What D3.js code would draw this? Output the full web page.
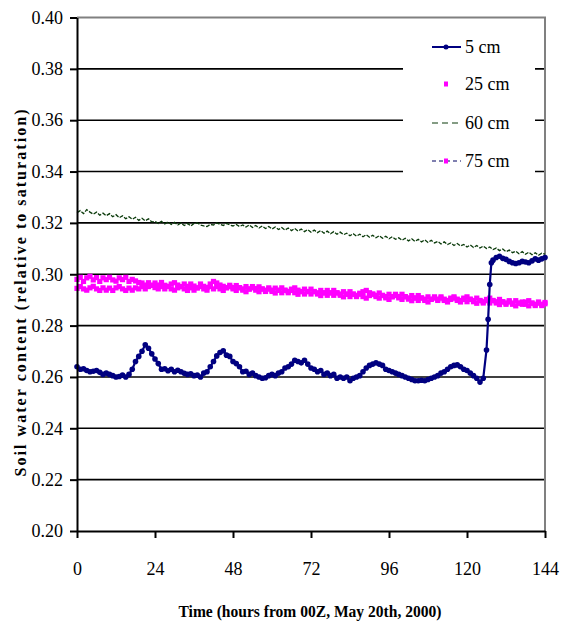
<!DOCTYPE html>
<html>
<head>
<meta charset="utf-8">
<script src="https://cdn.jsdelivr.net/npm/d3@7"></script>
<style>
  body { margin: 0; background: #fff; }
  svg, svg text { font-family: 'Liberation Serif', 'Times New Roman', Times, 'DejaVu Serif', serif !important; }
</style>
</head>
<body>
<svg id="chart" width="561" height="624"></svg>
<script>
// 横轴刻度 (小时)
const xTicks = [0, 24, 48, 72, 96, 120, 144];
// 纵轴刻度
const yTicks = [0.20, 0.22, 0.24, 0.26, 0.28, 0.30, 0.32, 0.34, 0.36, 0.38, 0.40];

// 5 cm 时间 (跳变处半小时)
const t5 = d3.range(0, 126).concat([126, 126.5, 127, 127.5], d3.range(128, 145));
// 5 cm 数值
const v5 = [
  0.2640, 0.2630, 0.2632, 0.2625, 0.2620, 0.2622, 0.2625, 0.2618, 0.2610, 0.2615,
  0.2610, 0.2605, 0.2600, 0.2602, 0.2607, 0.2600, 0.2610, 0.2630, 0.2660, 0.2680,
  0.2700, 0.2725, 0.2712, 0.2690, 0.2670, 0.2652, 0.2630, 0.2632, 0.2624, 0.2630,
  0.2620, 0.2626, 0.2620, 0.2614, 0.2610, 0.2612, 0.2605, 0.2607, 0.2600, 0.2615,
  0.2620, 0.2640, 0.2660, 0.2682, 0.2695, 0.2702, 0.2685, 0.2680, 0.2660, 0.2652,
  0.2640, 0.2620, 0.2622, 0.2610, 0.2615, 0.2605, 0.2600, 0.2595, 0.2597, 0.2605,
  0.2610, 0.2605, 0.2615, 0.2620, 0.2635, 0.2640, 0.2650, 0.2665, 0.2660, 0.2655,
  0.2665, 0.2650, 0.2635, 0.2630, 0.2620, 0.2625, 0.2610, 0.2615, 0.2605, 0.2610,
  0.2595, 0.2600, 0.2595, 0.2600, 0.2585, 0.2595, 0.2600, 0.2605, 0.2620, 0.2635,
  0.2645, 0.2650, 0.2655, 0.2650, 0.2645, 0.2630, 0.2625, 0.2620, 0.2615, 0.2610,
  0.2605, 0.2600, 0.2595, 0.2590, 0.2585, 0.2585, 0.2587, 0.2585, 0.2590, 0.2595,
  0.2600, 0.2605, 0.2615, 0.2620, 0.2630, 0.2640, 0.2645, 0.2647, 0.2640, 0.2630,
  0.2625, 0.2615, 0.2605, 0.2595, 0.2580, 0.2595,
  0.2705, 0.2825, 0.2960, 0.3045,
  0.3055, 0.3065, 0.3070, 0.3062, 0.3058, 0.3050, 0.3045, 0.3042, 0.3045, 0.3050,
  0.3048, 0.3045, 0.3052, 0.3060, 0.3055, 0.3060, 0.3065
];

// 25 cm 数值 (每小时)
const v25 = [
  0.2980, 0.2988, 0.2972, 0.2986, 0.2992, 0.2978, 0.2987, 0.2972, 0.2986, 0.2979,
  0.2988, 0.2978, 0.2973, 0.2986, 0.2979, 0.2988, 0.2972, 0.2980, 0.2974, 0.2968,
  0.2966, 0.2958, 0.2967, 0.2957, 0.2966, 0.2958, 0.2968, 0.2957, 0.2953, 0.2962,
  0.2967, 0.2958, 0.2952, 0.2962, 0.2953, 0.2962, 0.2954, 0.2947, 0.2962, 0.2953,
  0.2948, 0.2962, 0.2972, 0.2966, 0.2958, 0.2953, 0.2948, 0.2957, 0.2948, 0.2956,
  0.2948, 0.2943, 0.2952, 0.2943, 0.2952, 0.2944, 0.2951, 0.2943, 0.2938, 0.2947,
  0.2938, 0.2946, 0.2938, 0.2947, 0.2938, 0.2933, 0.2942, 0.2947, 0.2938, 0.2933,
  0.2942, 0.2933, 0.2942, 0.2933, 0.2928, 0.2937, 0.2928, 0.2937, 0.2928, 0.2937,
  0.2928, 0.2923, 0.2932, 0.2923, 0.2932, 0.2923, 0.2918, 0.2926, 0.2932, 0.2937,
  0.2928, 0.2923, 0.2918, 0.2927, 0.2918, 0.2913, 0.2922, 0.2913, 0.2922, 0.2913,
  0.2922, 0.2913, 0.2908, 0.2917, 0.2908, 0.2917, 0.2908, 0.2903, 0.2912, 0.2903,
  0.2912, 0.2903, 0.2912, 0.2903, 0.2898, 0.2907, 0.2912, 0.2903, 0.2898, 0.2907,
  0.2912, 0.2903, 0.2898, 0.2907, 0.2898, 0.2893, 0.2902, 0.2907, 0.2898, 0.2893,
  0.2902, 0.2893, 0.2888, 0.2897, 0.2888, 0.2897, 0.2888, 0.2883, 0.2892, 0.2897,
  0.2888, 0.2883, 0.2892, 0.2883, 0.2890
];

// 60 cm 数值 (每小时)
const v60 = [
  0.3240, 0.3248, 0.3236, 0.3252, 0.3242, 0.3234, 0.3242, 0.3230, 0.3238, 0.3228,
  0.3236, 0.3224, 0.3232, 0.3220, 0.3228, 0.3216, 0.3224, 0.3214, 0.3222, 0.3210,
  0.3218, 0.3208, 0.3216, 0.3204, 0.3206, 0.3198, 0.3206, 0.3196, 0.3204, 0.3194,
  0.3202, 0.3192, 0.3200, 0.3190, 0.3198, 0.3188, 0.3198, 0.3200, 0.3192, 0.3188,
  0.3186, 0.3194, 0.3192, 0.3200, 0.3194, 0.3190, 0.3198, 0.3192, 0.3188, 0.3194,
  0.3186, 0.3192, 0.3184, 0.3192, 0.3182, 0.3190, 0.3180, 0.3188, 0.3178, 0.3186,
  0.3176, 0.3184, 0.3174, 0.3182, 0.3172, 0.3180, 0.3170, 0.3178, 0.3168, 0.3176,
  0.3166, 0.3174, 0.3164, 0.3172, 0.3162, 0.3170, 0.3160, 0.3168, 0.3158, 0.3166,
  0.3156, 0.3164, 0.3154, 0.3160, 0.3150, 0.3158, 0.3148, 0.3156, 0.3146, 0.3154,
  0.3144, 0.3152, 0.3142, 0.3150, 0.3140, 0.3148, 0.3138, 0.3146, 0.3136, 0.3142,
  0.3132, 0.3140, 0.3130, 0.3138, 0.3128, 0.3136, 0.3126, 0.3134, 0.3124, 0.3132,
  0.3122, 0.3128, 0.3118, 0.3126, 0.3116, 0.3122, 0.3112, 0.3120, 0.3110, 0.3116,
  0.3106, 0.3114, 0.3104, 0.3112, 0.3102, 0.3110, 0.3100, 0.3106, 0.3096, 0.3102,
  0.3092, 0.3098, 0.3088, 0.3094, 0.3084, 0.3090, 0.3080, 0.3088, 0.3078, 0.3086,
  0.3076, 0.3084, 0.3074, 0.3082, 0.3078
];

// 75 cm 数值 (每小时)
const v75 = [
  0.2945, 0.2952, 0.2943, 0.2938, 0.2947, 0.2953, 0.2943, 0.2937, 0.2947, 0.2938,
  0.2946, 0.2937, 0.2947, 0.2952, 0.2943, 0.2937, 0.2946, 0.2938, 0.2947, 0.2943,
  0.2952, 0.2943, 0.2952, 0.2957, 0.2948, 0.2943, 0.2952, 0.2943, 0.2952, 0.2943,
  0.2938, 0.2947, 0.2952, 0.2943, 0.2937, 0.2947, 0.2938, 0.2947, 0.2952, 0.2943,
  0.2938, 0.2952, 0.2943, 0.2952, 0.2943, 0.2937, 0.2947, 0.2952, 0.2943, 0.2937,
  0.2947, 0.2938, 0.2932, 0.2942, 0.2947, 0.2938, 0.2932, 0.2942, 0.2933, 0.2942,
  0.2933, 0.2927, 0.2937, 0.2928, 0.2937, 0.2928, 0.2937, 0.2928, 0.2922, 0.2932,
  0.2923, 0.2932, 0.2923, 0.2932, 0.2923, 0.2917, 0.2927, 0.2918, 0.2927, 0.2918,
  0.2927, 0.2918, 0.2912, 0.2922, 0.2913, 0.2922, 0.2913, 0.2922, 0.2913, 0.2907,
  0.2917, 0.2922, 0.2913, 0.2907, 0.2917, 0.2908, 0.2902, 0.2912, 0.2917, 0.2908,
  0.2902, 0.2912, 0.2903, 0.2897, 0.2907, 0.2898, 0.2907, 0.2898, 0.2892, 0.2902,
  0.2907, 0.2898, 0.2907, 0.2898, 0.2892, 0.2902, 0.2907, 0.2898, 0.2892, 0.2902,
  0.2893, 0.2902, 0.2893, 0.2887, 0.2897, 0.2888, 0.2897, 0.2888, 0.2897, 0.2888,
  0.2882, 0.2892, 0.2883, 0.2892, 0.2883, 0.2877, 0.2887, 0.2892, 0.2883, 0.2877,
  0.2887, 0.2878, 0.2887, 0.2878, 0.2885
];

// 图例
const legendNames = ['5 cm', '25 cm', '60 cm', '75 cm'];

const svg = d3.select('#chart');
const plotL = 77, plotR = 545, plotT = 17.5, plotB = 531;

const x = d3.scaleLinear().domain([0, 144]).range([plotL, plotR]);
const y = d3.scaleLinear().domain([0.20, 0.40]).range([plotB, plotT]);

// 网格线
svg.append('g').selectAll('line')
  .data(yTicks.filter(d => d > 0.201 && d < 0.399))
  .join('line')
  .attr('x1', plotL).attr('x2', plotR)
  .attr('y1', d => y(d)).attr('y2', d => y(d))
  .attr('stroke', '#000').attr('stroke-width', 1.6);

// 图区边框 (上, 右)
svg.append('path')
  .attr('d', `M${plotL},${y(0.40)}H${plotR}V${plotB}`)
  .attr('fill', 'none').attr('stroke', '#808080').attr('stroke-width', 2);

// 图例底色 (遮盖网格线)
svg.append('rect')
  .attr('x', 403).attr('y', 28).attr('width', 132).attr('height', 152)
  .attr('fill', '#fff');

const pts = (ts, vs) => d3.zip(ts, vs);
const hours = v => v.map((d, i) => i);
const line = d3.line().x(d => x(d[0])).y(d => y(d[1]));

// 25 cm 点
svg.append('g').selectAll('rect')
  .data(pts(hours(v25), v25))
  .join('rect')
  .attr('x', d => x(d[0]) - 2.6).attr('y', d => y(d[1]) - 2.6)
  .attr('width', 5.2).attr('height', 5.2)
  .attr('fill', '#ff00ff');

// 75 cm 虚线 + 点
svg.append('path')
  .datum(pts(hours(v75), v75))
  .attr('d', line)
  .attr('fill', 'none').attr('stroke', '#000060').attr('stroke-width', 1)
  .attr('stroke-dasharray', '4,3');
svg.append('g').selectAll('rect')
  .data(pts(hours(v75), v75))
  .join('rect')
  .attr('x', d => x(d[0]) - 2.6).attr('y', d => y(d[1]) - 2.6)
  .attr('width', 5.2).attr('height', 5.2)
  .attr('fill', '#ff00ff');

// 60 cm 虚线
svg.append('path')
  .datum(pts(hours(v60), v60))
  .attr('d', line)
  .attr('fill', 'none').attr('stroke', '#0a3a0a').attr('stroke-width', 1.3)
  .attr('stroke-dasharray', '4,1.5');

// 5 cm 线 + 点
const d5 = pts(t5, v5);
svg.append('path')
  .datum(d5)
  .attr('d', line)
  .attr('fill', 'none').attr('stroke', '#000080').attr('stroke-width', 2.2);
svg.append('g').selectAll('circle')
  .data(d5)
  .join('circle')
  .attr('cx', d => x(d[0])).attr('cy', d => y(d[1]))
  .attr('r', 2.8).attr('fill', '#000080');

// 坐标轴
const xAxis = svg.append('g')
  .attr('transform', `translate(0,${plotB})`)
  .call(d3.axisBottom(x).tickValues(xTicks).tickSize(7).tickPadding(24).tickSizeOuter(0));
const yAxis = svg.append('g')
  .attr('transform', `translate(${plotL},0)`)
  .call(d3.axisLeft(y).tickValues(yTicks).tickFormat(d3.format('.2f')).tickSize(7).tickPadding(7).tickSizeOuter(0));

[xAxis, yAxis].forEach(a => {
  a.attr('font-family', null);
  a.select('.domain').attr('stroke', '#000').attr('stroke-width', 2);
  a.selectAll('.tick line').attr('stroke', '#000').attr('stroke-width', 2);
  a.selectAll('.tick text')
    .attr('font-size', 18).attr('fill', '#000');
});

// 坐标轴标题
svg.append('text')
  .attr('x', 310).attr('y', 617)
  .attr('text-anchor', 'middle')
  .attr('font-size', 17).attr('font-weight', 'bold')
  .attr('textLength', 263).attr('lengthAdjust', 'spacingAndGlyphs')
  .text('Time (hours from 00Z, May 20th, 2000)');
svg.append('text')
  .attr('transform', 'translate(26,293) rotate(-90)')
  .attr('text-anchor', 'middle')
  .attr('font-size', 16).attr('font-weight', 'bold')
  .attr('textLength', 367).attr('lengthAdjust', 'spacing')
  .text('Soil water content (relative to saturation)');

// 图例
const lg = svg.append('g');
const lgY = [47, 84, 123, 161];
legendNames.forEach((name, i) => {
  const g = lg.append('g').attr('transform', `translate(0,${lgY[i]})`);
  if (i === 0) {
    g.append('line').attr('x1', 432).attr('x2', 461).attr('stroke', '#000080').attr('stroke-width', 2);
    g.append('circle').attr('cx', 446).attr('r', 2.5).attr('fill', '#000080');
  } else if (i === 1) {
    g.append('rect').attr('x', 444).attr('y', -2.5).attr('width', 4).attr('height', 5).attr('fill', '#ff00ff');
  } else if (i === 2) {
    g.append('line').attr('x1', 432).attr('x2', 461).attr('stroke', '#0a3a0a').attr('stroke-width', 1.2)
      .attr('stroke-dasharray', '6,4');
  } else {
    g.append('line').attr('x1', 432).attr('x2', 461).attr('stroke', '#000060').attr('stroke-width', 1)
      .attr('stroke-dasharray', '4,3');
    g.append('rect').attr('x', 444).attr('y', -2.5).attr('width', 4).attr('height', 5).attr('fill', '#ff00ff');
  }
  g.append('text').attr('x', 465).attr('y', 6)
    .attr('font-size', 18).attr('fill', '#000')
    .text(name);
});
</script>
</body>
</html>
